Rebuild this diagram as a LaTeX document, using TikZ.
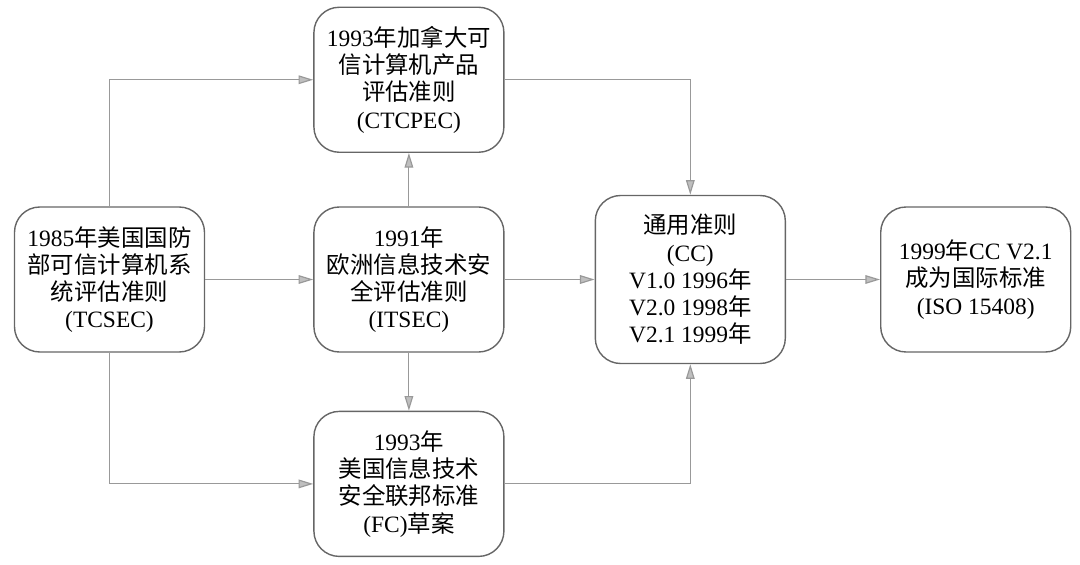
\documentclass[tikz,border=0pt]{standalone}
\usepackage{fontspec}
\setmainfont{Liberation Serif}
\newfontfamily\cjk{Noto Sans CJK SC}
\newcommand{\zh}[1]{{\cjk #1}}
\usetikzlibrary{positioning,arrows.meta}

\tikzset{
	stdbox/.style={draw=black!60, line width=0.6pt, rounded corners=0.38cm,
		minimum width=2.85cm, minimum height=2.175cm, align=center,
		font=\fontsize{10}{11.6}\selectfont, inner sep=1pt},
	arr/.style={draw=black!40, line width=0.5pt,
		-{Triangle[length=2.2mm, width=1.3mm, fill=black!25]}},
}

\begin{document}
\begin{tikzpicture}
	\useasboundingbox (-1.6425,4.1925) rectangle (14.5575,-4.2675);
	\node [stdbox] (TCSEC) {1985\zh{年美国国防}\\\zh{部可信计算机系}\\\zh{统评估准则}\\(TCSEC)};
	\node [stdbox, right=1.62cm of TCSEC] (ITSEC) {1991\zh{年}\\\zh{欧洲信息技术安}\\\zh{全评估准则}\\(ITSEC)};
	\node [stdbox, above=0.8cm of ITSEC] (CTCPEC) {1993\zh{年加拿大可}\\\zh{信计算机产品}\\\zh{评估准则}\\(CTCPEC)};
	\node [stdbox, below=0.87cm of ITSEC] (FC) {1993\zh{年}\\\zh{美国信息技术}\\\zh{安全联邦标准}\\(FC)\zh{草案}};
	\node [stdbox, minimum height=2.52cm, right=1.35cm of ITSEC] (CC) {\zh{通用准则}\\(CC)\\V1.0 1996\zh{年}\\V2.0 1998\zh{年}\\V2.1 1999\zh{年}};
	\node [stdbox, right=1.41cm of CC] (ISO) {1999\zh{年}CC V2.1\\\zh{成为国际标准}\\(ISO 15408)};
	\draw [arr] (TCSEC.north) |- (CTCPEC.west);
	\draw [arr] (TCSEC.south) |- (FC.west);
	\draw [arr] (TCSEC) -- (ITSEC);
	\draw [arr] (ITSEC) -- (CTCPEC);
	\draw [arr] (ITSEC) -- (FC);
	\draw [arr] (ITSEC) -- (CC);
	\draw [arr] (CTCPEC.east) -| (CC.north);
	\draw [arr] (FC.east) -| (CC.south);
	\draw [arr] (CC) -- (ISO);
\end{tikzpicture}
\end{document}
